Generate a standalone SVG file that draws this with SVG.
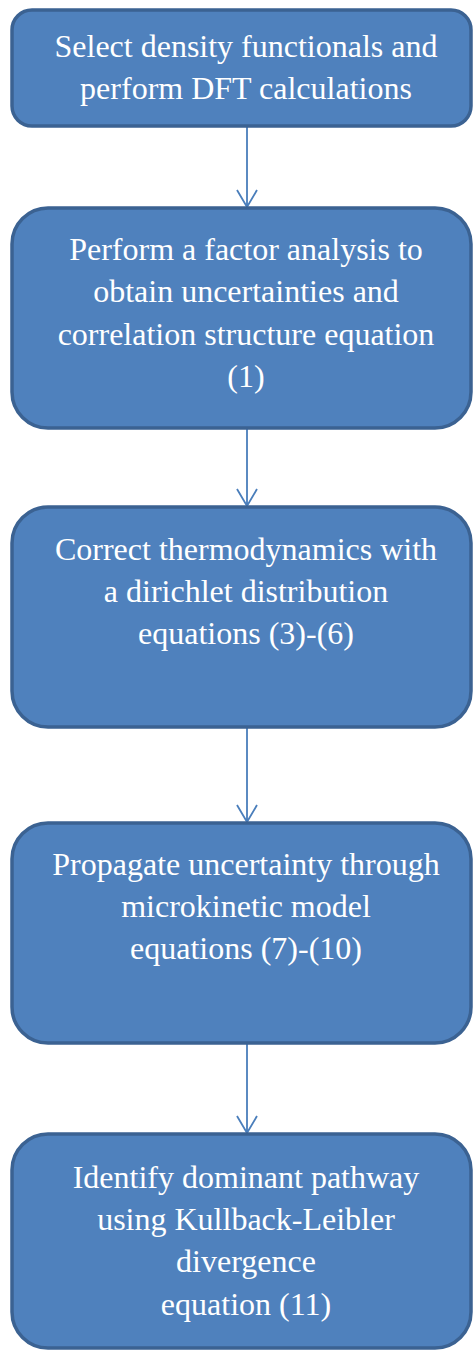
<svg xmlns="http://www.w3.org/2000/svg" width="473" height="1350" viewBox="0 0 473 1350">
<style>
.box{fill:#4f81bd;stroke:#3b6292;stroke-width:3.5}
.t{font-family:'Liberation Serif','DejaVu Serif',serif;font-size:32px;fill:#ffffff;text-anchor:middle}
.c{stroke:#4a7ebb;stroke-width:1.8;fill:none}
</style>
<g id="connectors">
<path class="c" d="M247,126V207M237,190L247,207L257,190"/>
<path class="c" d="M247,428V506M237,489L247,506L257,489"/>
<path class="c" d="M247,728V822M237,805L247,822L257,805"/>
<path class="c" d="M247,1043V1133M237,1116L247,1133L257,1116"/>
</g>
<g id="n1">
<rect class="box" x="12" y="10" width="459" height="116" rx="20"/>
<text class="t" x="246" y="57" font-family="Liberation Serif">Select density functionals and</text>
<text class="t" x="246" y="99" font-family="Liberation Serif">perform DFT calculations</text>
</g>
<g id="n2">
<rect class="box" x="12" y="208" width="459" height="220" rx="36"/>
<text class="t" x="246" y="260">Perform a factor analysis to</text>
<text class="t" x="246" y="302">obtain uncertainties and</text>
<text class="t" x="246" y="345">correlation structure equation</text>
<text class="t" x="246" y="387">(1)</text>
</g>
<g id="n3">
<rect class="box" x="12" y="507" width="459" height="220" rx="36"/>
<text class="t" x="246" y="560">Correct thermodynamics with</text>
<text class="t" x="246" y="602">a dirichlet distribution</text>
<text class="t" x="246" y="644">equations (3)-(6)</text>
</g>
<g id="n4">
<rect class="box" x="12" y="823" width="459" height="220" rx="36"/>
<text class="t" x="246" y="875">Propagate uncertainty through</text>
<text class="t" x="246" y="917">microkinetic model</text>
<text class="t" x="246" y="959">equations (7)-(10)</text>
</g>
<g id="n5">
<rect class="box" x="12" y="1134" width="459" height="214" rx="36"/>
<text class="t" x="246" y="1188">Identify dominant pathway</text>
<text class="t" x="246" y="1230">using Kullback-Leibler</text>
<text class="t" x="246" y="1272">divergence</text>
<text class="t" x="246" y="1315">equation (11)</text>
</g>
</svg>
